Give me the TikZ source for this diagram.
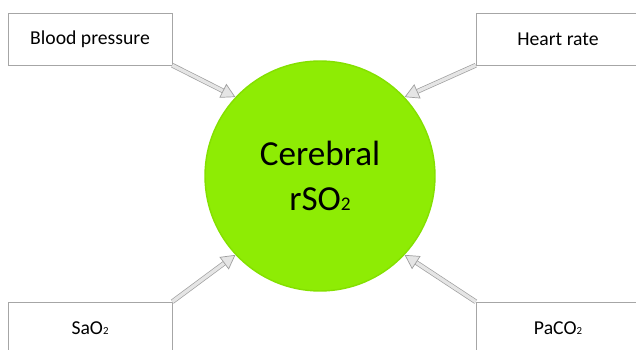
\documentclass[tikz,border=0pt]{standalone}
\usepackage{fontspec}
\setmainfont{Carlito}
\usetikzlibrary{arrows.meta,shadows}
\definecolor{limegreen}{RGB}{142,236,4}
\definecolor{limeedge}{RGB}{132,224,0}
\newcommand{\lowtwo}{{\fontsize{0.55em}{1em}\selectfont 2}}
\begin{document}
\begin{tikzpicture}[
  factor/.style={rectangle,draw=gray!70,fill=white,minimum width=4.1cm,minimum height=1.3cm,
    font=\fontsize{14}{17}\selectfont,drop shadow={opacity=0.2,shadow xshift=0.6pt,shadow yshift=-0.6pt}},
  feed/.style={draw=gray!75,line width=0.5pt,double=gray!20,double distance=2.4pt,
    -{Triangle[length=10pt,width=11pt,fill=gray!20]}}
]
\useasboundingbox (0,0) rectangle (15.9,8.75);
\node[circle,inner sep=0pt,minimum size=5.75cm,fill=limegreen,draw=limeedge,line width=1pt,
  align=center,font=\fontsize{25}{32}\selectfont] (cer) at (8,4.35) {Cerebral\\rSO\lowtwo};
\node[factor] (bp) at (2.25,7.775) {Blood pressure};
\node[factor] (hr) at (13.95,7.775) {Heart rate};
\node[factor] (sao) at (2.25,0.55) {SaO\lowtwo};
\node[factor] (pac) at (13.95,0.55) {PaCO\lowtwo};
\path
  (bp.south east) edge [feed] (cer.137)
  (hr.south west) edge [feed] (cer.43)
  (sao.north east) edge [feed] (cer.223)
  (pac.north west) edge [feed] (cer.317)
;
\end{tikzpicture}
\end{document}
